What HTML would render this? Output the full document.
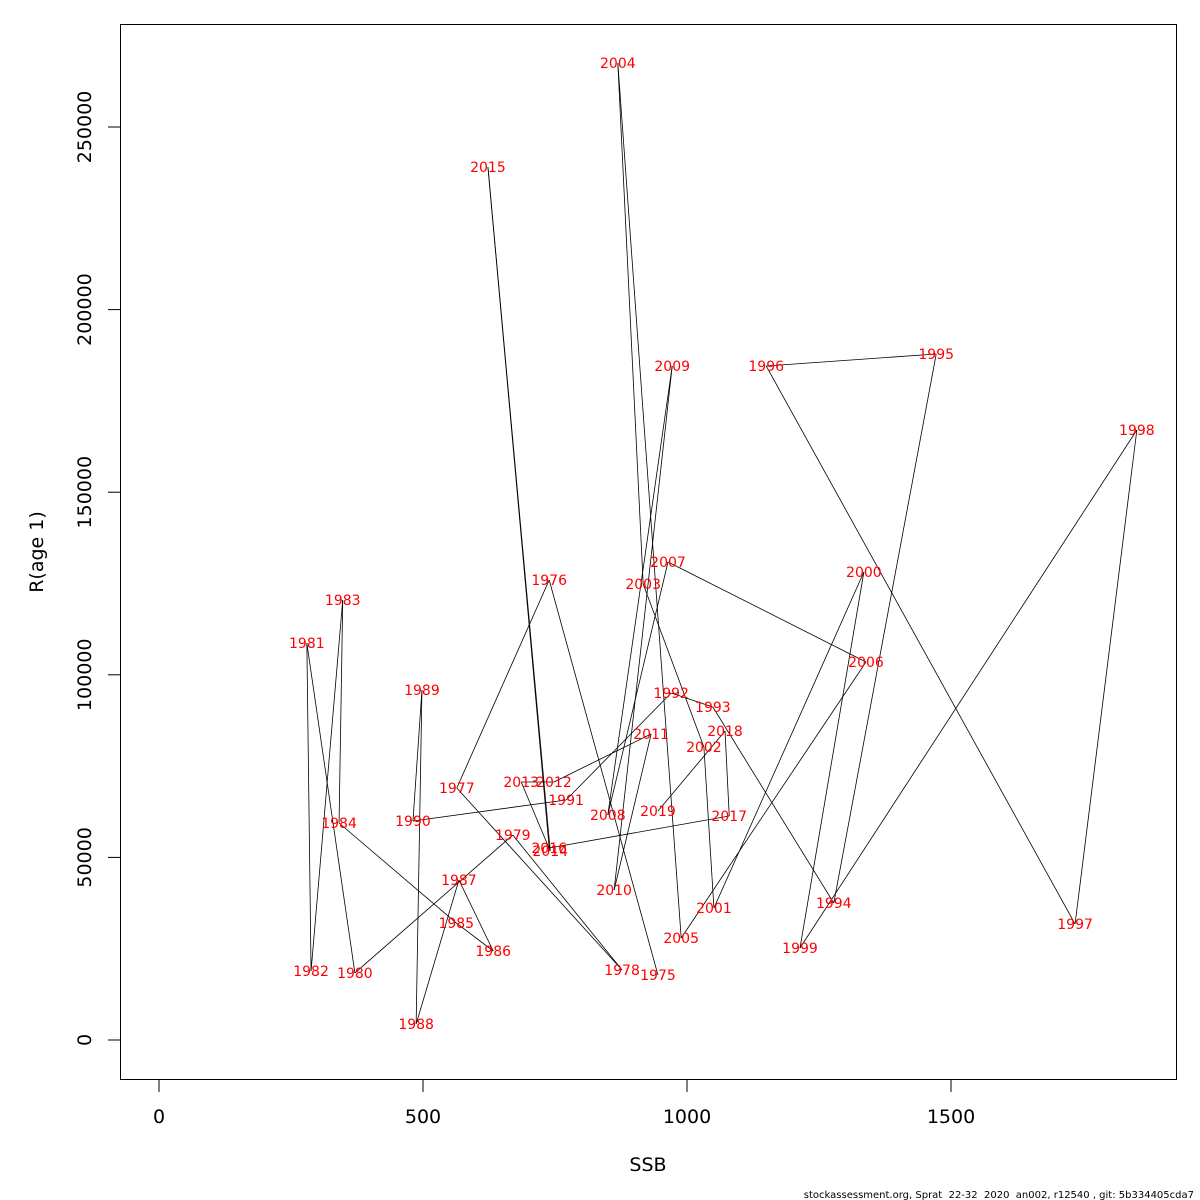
<!DOCTYPE html>
<html><head><meta charset="utf-8"><style>
html,body{margin:0;padding:0;background:#fff;}
svg{display:block;font-family:"DejaVu Sans","Liberation Sans",sans-serif;}
</style></head><body>
<svg id="chart" width="1200" height="1200" viewBox="0 0 1200 1200" xmlns="http://www.w3.org/2000/svg">
<rect x="120.5" y="24.5" width="1056" height="1055" fill="none" stroke="#000" stroke-width="1"/>
<g id="xaxis"></g>
<g id="yaxis"></g>
<g id="lines"></g>
<g id="labels"></g>
<text x="648" y="1171" font-size="19" text-anchor="middle">SSB</text>
<text x="0" y="0" font-size="19" text-anchor="middle" transform="translate(43,552) rotate(-90)">R(age 1)</text>
<text x="1194" y="1198" font-size="10" text-anchor="end" xml:space="preserve">stockassessment.org, Sprat  22-32  2020  an002, r12540 , git: 5b334405cda7</text>
</svg>
<script>
const years = [1975,1976,1977,1978,1979,1980,1981,1982,1983,1984,1985,1986,1987,1988,1989,1990,1991,1992,1993,1994,1995,1996,1997,1998,1999,2000,2001,2002,2003,2004,2005,2006,2007,2008,2009,2010,2011,2012,2013,2014,2015,2016,2017,2018,2019];
const ssb = [945,739,564,877,670,371,280,288,348,341,563,633,568,487,498,481,771,970,1049,1278,1472,1150,1735,1852,1214,1335,1051,1032,917,869,989,1339,964,850,972,862,932,748,686,741,623,739,1080,1072,945];
const rec = [17800,125960,69000,19170,56130,18350,108700,18900,120480,59420,32040,24370,43810,4380,95840,59970,65720,95020,91180,37510,187840,184560,31760,167030,25190,128150,36140,80230,124860,267520,27930,103500,130890,61610,184560,41070,83790,70650,70650,51750,239050,52570,61340,84610,62700];
const xTicks = [0,500,1000,1500];
const yTicks = [0,50000,100000,150000,200000,250000];
const NS='http://www.w3.org/2000/svg';
function sx(v){return 159+0.528*v;}
function sy(v){return 1040-0.003652*v;}
function mk(tag,attrs,parent){const e=document.createElementNS(NS,tag);for(const k in attrs)e.setAttribute(k,attrs[k]);parent.appendChild(e);return e;}
const xa=document.getElementById('xaxis'), ya=document.getElementById('yaxis');
let l=mk('line',{x1:sx(0),x2:sx(1500),y1:1079.5,y2:1079.5,stroke:'#000'},xa);


xTicks.forEach(t=>{
  const tk=mk('line',{x1:sx(t),x2:sx(t),y1:1080,y2:1092,stroke:'#000'},xa);
  
  
  const tx=mk('text',{x:sx(t),y:1123,'font-size':19,'text-anchor':'middle'},xa);
  tx.textContent=t;
  
  
});
l=mk('line',{x1:120.5,x2:120.5,y1:sy(0),y2:sy(250000),stroke:'#000'},ya);


yTicks.forEach(t=>{
  const tk=mk('line',{x1:108,x2:120,y1:sy(t),y2:sy(t),stroke:'#000'},ya);
  
  
  const tx=mk('text',{x:0,y:0,'font-size':19,'text-anchor':'middle',transform:`translate(91,${sy(t)}) rotate(-90)`},ya);
  tx.textContent=t;
  
  
});
const lg=document.getElementById('lines'), lb=document.getElementById('labels');
for(let i=0;i<years.length-1;i++){
  const s=mk('line',{x1:sx(ssb[i]),y1:sy(rec[i]),x2:sx(ssb[i+1]),y2:sy(rec[i+1]),stroke:'#000','stroke-width':0.8},lg);
  
  
}
years.forEach((y,i)=>{
  const t=mk('text',{x:sx(ssb[i]),y:sy(rec[i])+5,'font-size':14,'text-anchor':'middle',fill:'#ff0000'},lb);
  t.textContent=y;
  
  
});
</script>
</body></html>
